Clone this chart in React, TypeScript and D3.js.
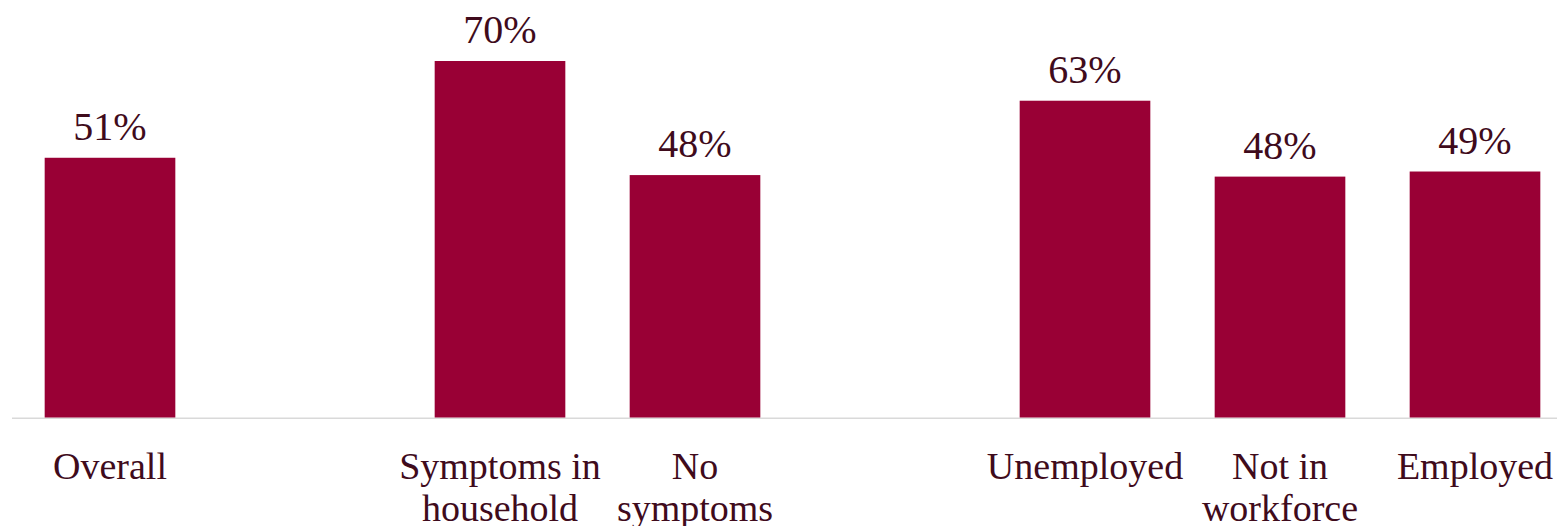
import React, { useEffect, useRef } from "react";
import * as d3 from "d3";

// slots on the x axis; the gap entries are the empty spaces between groups
const slots = ["overall", "gap1", "symptoms", "noSymptoms", "gap2", "unemployed", "notInWorkforce", "employed"];

const categories = ["overall", "symptoms", "noSymptoms", "unemployed", "notInWorkforce", "employed"];
const categoryLabels = [
  ["Overall"],
  ["Symptoms in", "household"],
  ["No", "symptoms"],
  ["Unemployed"],
  ["Not in", "workforce"],
  ["Employed"],
];
// bar heights (percent)
const values = [51, 70, 47.6, 62.2, 47.3, 48.3];
const valueLabels = ["51%", "70%", "48%", "63%", "48%", "49%"];

const App: React.FC = () => {
  const svgRef = useRef<SVGSVGElement>(null);

  useEffect(() => {
    document.body.style.margin = "0";
    if (!svgRef.current) return;
    const svg = d3.select(svgRef.current);
    svg.selectAll("*").remove();

    const width = 1557;
    const height = 526;
    const baseline = 417.5;
    const font = "'Liberation Serif', 'Times New Roman', serif";
    const textColor = "#3f0b1c";

    svg.attr("width", width).attr("height", height);

    const x = d3.scaleBand<string>().domain(slots).range([12.5, 1572.5]).paddingInner(0.33).paddingOuter(0.165);

    const y = d3.scaleLinear().domain([0, 70]).range([baseline, 61]);

    // axis line
    svg
      .append("line")
      .attr("x1", 12)
      .attr("x2", width)
      .attr("y1", baseline + 0.8)
      .attr("y2", baseline + 0.8)
      .attr("stroke", "#d9d9d9")
      .attr("stroke-width", 1.6);

    const g = svg.append("g");

    categories.forEach((cat, i) => {
      const bx = x(cat) ?? 0;
      const bw = x.bandwidth();
      const cx = bx + bw / 2;

      g.append("rect")
        .attr("x", bx)
        .attr("y", y(values[i]))
        .attr("width", bw)
        .attr("height", baseline - y(values[i]))
        .attr("fill", "#990035");

      g.append("text")
        .attr("x", cx)
        .attr("y", y(values[i]) - 18)
        .attr("text-anchor", "middle")
        .style("font-family", font)
        .style("font-size", "40px")
        .style("fill", textColor)
        .text(valueLabels[i]);

      categoryLabels[i].forEach((line, j) => {
        g.append("text")
          .attr("x", cx)
          .attr("y", 479 + j * 42)
          .attr("text-anchor", "middle")
          .style("font-family", font)
          .style("font-size", "38px")
          .style("fill", textColor)
          .text(line);
      });
    });
  }, []);

  return (
    <div style={{ width: "100%" }}>
      <svg ref={svgRef} style={{ display: "block" }}></svg>
    </div>
  );
};

export default App;
